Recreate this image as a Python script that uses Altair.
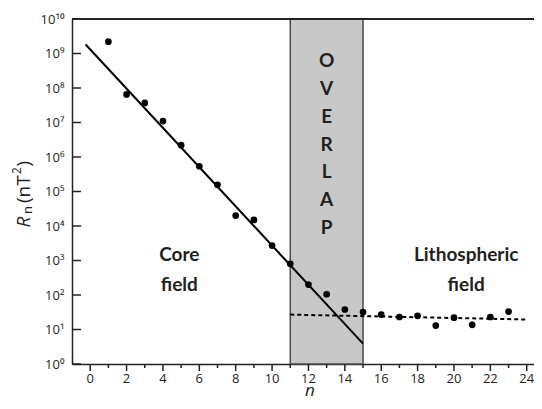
import altair as alt
import pandas as pd

# ---- data ----
n_vals = list(range(1, 24))
rn_vals = [2.2e9, 6.5e7, 3.7e7, 1.1e7, 2.2e6, 5.4e5, 1.56e5, 2.0e4, 1.5e4, 2.7e3,
           800, 200, 105, 38, 32, 27, 23, 25, 13, 22, 13.7, 23, 33]

core_fit_n = [-0.25, 15]
core_fit_rn = [10 ** 9.26, 10 ** 0.59]

litho_fit_n = [11, 24]
litho_fit_rn = [27, 19.5]

overlap_n = [11]
overlap_n2 = [15]

decades = [10 ** k for k in range(0, 11)]
x_major = list(range(0, 25, 2))
x_minor = list(range(1, 25, 2))

W, H = 462, 345
FONT = "Open Sans"
AFONT = "Lato"
TXT = "#231f20"

xscale = alt.Scale(domain=[-1, 24.4], nice=False, zero=False)
yscale = alt.Scale(type="log", domain=[1, 1e10], nice=False)

pts = pd.DataFrame({"n": n_vals, "rn": rn_vals})
core = pd.DataFrame({"n": core_fit_n, "rn": core_fit_rn})
litho = pd.DataFrame({"n": litho_fit_n, "rn": litho_fit_rn})
band = pd.DataFrame({"n": overlap_n, "n2": overlap_n2, "y1": [1], "y2": [1e10]})
dec = pd.DataFrame({"rn": decades})
major = pd.DataFrame({"n": x_major, "lab": [str(v) for v in x_major]})
minor = pd.DataFrame({"n": x_minor})

sup = "['⁰','¹','²','³','⁴','⁵','⁶','⁷','⁸','⁹','¹⁰']"

x_axis = alt.Axis(
    title=None, grid=False, ticks=False, labels=False,
    domainColor="#222", domainWidth=1.5,
)
y_axis = alt.Axis(
    values=decades, title=None, grid=False, tickSize=0, labelOverlap=False,
    labelExpr="'10' + " + sup + "[round(log(datum.value)/LN10)]",
    domainColor="#222", domainWidth=1.5,
    labelFont=FONT, labelFontSize=13, labelColor=TXT, labelPadding=8,
)

bandl = alt.Chart(band).mark_rect(fill="#c8c8c8", stroke="#4a4a4a", strokeWidth=1.5).encode(
    x=alt.X("n:Q", scale=xscale, axis=x_axis), x2="n2:Q",
    y=alt.Y("y1:Q", scale=yscale, axis=y_axis), y2="y2:Q",
)

ytick = alt.Chart(dec).mark_rule(color="#222", strokeWidth=1.5).encode(
    y=alt.Y("rn:Q", scale=yscale), x=alt.value(0), x2=alt.value(9)
)
xmajor_t = alt.Chart(major).mark_rule(color="#222", strokeWidth=1.5).encode(
    x=alt.X("n:Q", scale=xscale), y=alt.value(H), y2=alt.value(H + 7)
)
xminor_t = alt.Chart(minor).mark_rule(color="#222", strokeWidth=1.5).encode(
    x=alt.X("n:Q", scale=xscale), y=alt.value(H), y2=alt.value(H + 4)
)
xlabels = alt.Chart(major).mark_text(
    font=FONT, fontSize=13, color=TXT, align="center", baseline="top"
).encode(x=alt.X("n:Q", scale=xscale), y=alt.value(H + 9), text="lab:N")

topline = alt.Chart(dec.head(1)).mark_rule(color="#222", strokeWidth=2).encode(
    y=alt.value(0), x=alt.value(0), x2=alt.value(W)
)

corel = alt.Chart(core).mark_line(color="black", strokeWidth=2).encode(
    x=alt.X("n:Q", scale=xscale), y=alt.Y("rn:Q", scale=yscale)
)
lithol = alt.Chart(litho).mark_line(color="black", strokeWidth=2, strokeDash=[4, 3]).encode(
    x=alt.X("n:Q", scale=xscale), y=alt.Y("rn:Q", scale=yscale)
)
ptsl = alt.Chart(pts).mark_circle(color="black", opacity=1, size=45).encode(
    x=alt.X("n:Q", scale=xscale), y=alt.Y("rn:Q", scale=yscale)
)

# annotation anchors (first line position) in data units
labels = pd.DataFrame({
    "n": [4.9, 20.67, 13.0],
    "rn": [10 ** 3.17, 10 ** 3.17, 10 ** 8.77],
    "t": [["Core", "field"], ["Lithospheric", "field"], ["O", "V", "E", "R", "L", "A", "P"]],
})
core_txt = alt.Chart(labels.iloc[:2]).mark_text(
    font=AFONT, fontWeight="bold", fontSize=19, color=TXT, baseline="middle",
    align="center", lineHeight=30
).encode(x=alt.X("n:Q", scale=xscale), y=alt.Y("rn:Q", scale=yscale), text="t")
ov_txt = alt.Chart(labels.iloc[2:]).mark_text(
    font=AFONT, fontWeight="bold", fontSize=19, color=TXT, baseline="middle",
    align="center", lineHeight=27.7
).encode(x=alt.X("n:Q", scale=xscale), y=alt.Y("rn:Q", scale=yscale), text="t")

# axis titles
one = pd.DataFrame({"a": [0]})
def t(txt, x, y, size, style="normal", angle=270):
    return alt.Chart(one).mark_text(
        text=txt, font=FONT, fontSize=size, fontStyle=style, color=TXT,
        angle=angle, align="left", baseline="alphabetic"
    ).encode(x=alt.value(x), y=alt.value(y))

ytitle = (
    t("R", -42, 208.5, 19, "italic")
    + t("n", -40, 195, 13)
    + t("(nT", -42, 184, 19)
    + t("2", -51, 155, 12)
    + t(")", -42, 147.5, 19)
)
xtitle = alt.Chart(one).mark_text(
    text="n", font=FONT, fontSize=17, fontStyle="italic", color=TXT,
    align="center", baseline="alphabetic"
).encode(x=alt.value(238), y=alt.value(377))

chart = alt.layer(
    bandl, ytick, xmajor_t, xminor_t, xlabels, corel, lithol, ptsl,
    core_txt, ov_txt, ytitle, xtitle, topline
).properties(
    width=W, height=H,
    autosize=alt.AutoSizeParams(type="none"),
    padding={"left": 64, "top": 11, "right": 0, "bottom": 37},
).configure_view(stroke=None)

chart.save("out.html", embed_options={"renderer": "svg", "actions": False})
